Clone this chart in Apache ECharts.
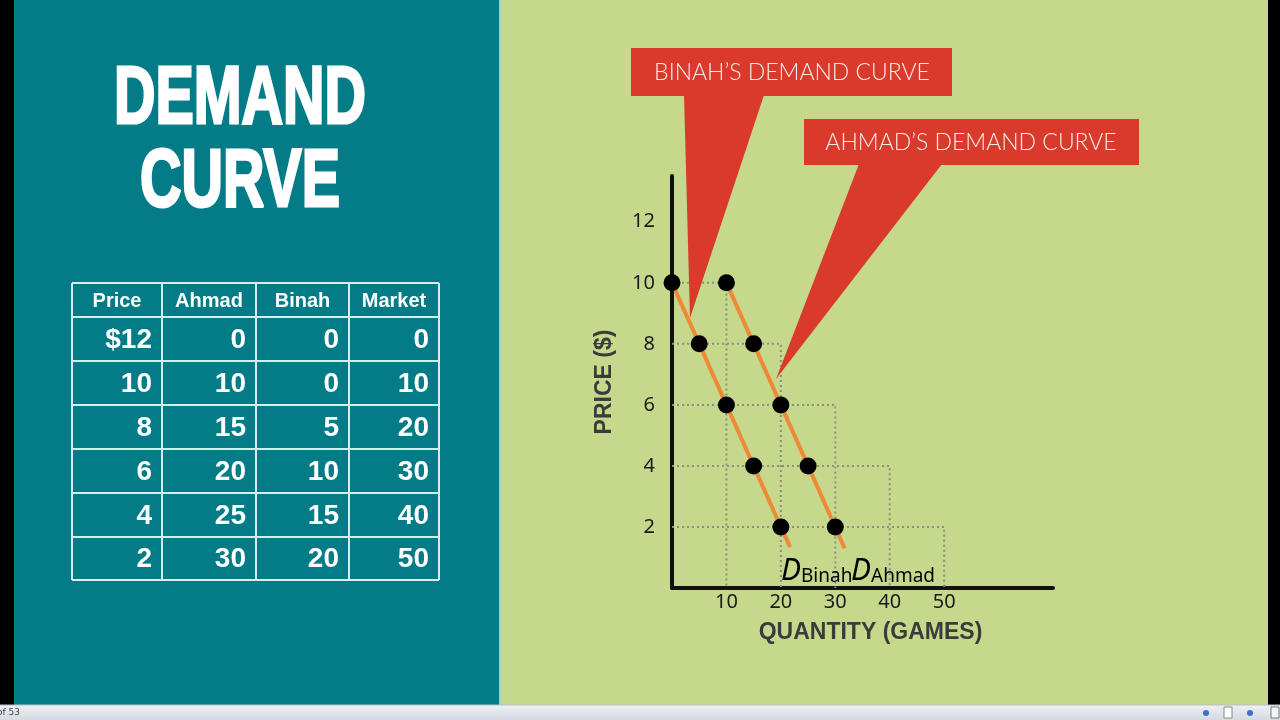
<!DOCTYPE html>
<html lang="en">
<head>
  <meta charset="UTF-8">
  <script src="https://cdn.jsdelivr.net/npm/echarts@6/dist/echarts.min.js"></script>
  <title>Demand Curve</title>
  <style>
    html, body { margin: 0; padding: 0; background: #000; }
    .container { width: 1280px; height: 720px; }
  </style>
</head>
<body>
  <div class="container"></div>
  <script>
    // table data (price schedule)
    const tableHeaders = ["Price", "Ahmad", "Binah", "Market"];
    const prices = [12, 10, 8, 6, 4, 2];
    const ahmadQty = [0, 10, 15, 20, 25, 30];
    const binahQty = [0, 0, 5, 10, 15, 20];
    const marketQty = [0, 10, 20, 30, 40, 50];

    // axis tick labels
    const xTicks = [10, 20, 30, 40, 50];
    const yTicks = [2, 4, 6, 8, 10, 12];

    // where the drawn demand lines stop
    const binahLineEnd = [21.7, 1.35];
    const ahmadLineEnd = [31.7, 1.3];

    const TEAL = "#037c88";
    const GREEN = "#c6d88b";
    const RED = "#d93a2b";
    const ORANGE = "#ee8a35";

    // only rows at $10 or less get plotted
    const plotted = prices.map((p, i) => i).filter((i) => prices[i] <= 10);
    const binahPts = plotted.map((i) => [binahQty[i], prices[i]]);
    const ahmadPts = plotted.map((i) => [ahmadQty[i], prices[i]]);
    const marketBoxes = plotted.map((i) => ({
      coords: [[0, prices[i]], [marketQty[i], prices[i]], [marketQty[i], 0]],
    }));

    // --- table graphics ---
    const colX = [72, 162, 256, 349, 439];
    const rowY = [283, 317, 361, 405, 449, 493, 537, 580];
    const tableEls = [];
    colX.forEach((x) => {
      tableEls.push({ type: "line", shape: { x1: x, y1: rowY[0], x2: x, y2: rowY[rowY.length - 1] },
        style: { stroke: "#d6eef0", lineWidth: 2 } });
    });
    rowY.forEach((y) => {
      tableEls.push({ type: "line", shape: { x1: colX[0], y1: y, x2: colX[4], y2: y },
        style: { stroke: "#d6eef0", lineWidth: 2 } });
    });
    tableHeaders.forEach((h, c) => {
      tableEls.push({ type: "text", x: (colX[c] + colX[c + 1]) / 2, y: (rowY[0] + rowY[1]) / 2 + 1,
        style: { text: h, fill: "#fff", fontSize: 20, fontWeight: "bold", fontFamily: "Liberation Sans",
          align: "center", verticalAlign: "middle", textAlign: "center", textVerticalAlign: "middle" } });
    });
    prices.forEach((p, r) => {
      const cells = [r === 0 ? "$" + p : String(p), ahmadQty[r], binahQty[r], marketQty[r]];
      cells.forEach((v, c) => {
        tableEls.push({ type: "text", x: colX[c + 1] - 10, y: (rowY[r + 1] + rowY[r + 2]) / 2 + 1,
          style: { text: String(v), fill: "#fff", fontSize: 28, fontWeight: "bold", fontFamily: "Liberation Sans",
            align: "right", verticalAlign: "middle", textAlign: "right", textVerticalAlign: "middle" } });
      });
    });

    const titleStyle = (t) => ({
      text: t, fill: "#fff", fontSize: 82, fontWeight: "bold", fontFamily: "Liberation Sans",
      stroke: "#fff", lineWidth: 3,
      align: "center", verticalAlign: "middle", textAlign: "center", textVerticalAlign: "middle",
    });

    const calloutText = (t) => ({
      text: t, fill: "#f7ece6", fontSize: 23, fontWeight: 300, fontFamily: "Lato",
      align: "center", verticalAlign: "middle", textAlign: "center", textVerticalAlign: "middle",
    });

    const dLabel = (who) => ({
      text: "{d|D}{s|" + who + "}",
      rich: {
        d: { fontSize: 30, fontStyle: "italic", fontFamily: "Noto Sans", color: "#222", verticalAlign: "bottom", lineHeight: 32 },
        s: { fontSize: 19, fontFamily: "Noto Sans", color: "#222", verticalAlign: "bottom", lineHeight: 26 },
      },
      align: "left", verticalAlign: "bottom", textAlign: "left", textVerticalAlign: "bottom",
    });

    const chart = echarts.init(document.querySelector(".container"));
    const options = {
      backgroundColor: GREEN,
      animation: false,
      grid: { left: 672, top: 176, width: 381, height: 412 },
      xAxis: {
        type: "value", min: 0, max: 70, interval: 10,
        axisLine: { show: true, lineStyle: { color: "#111", width: 4 } },
        axisTick: { show: false },
        splitLine: { show: false },
        axisLabel: {
          formatter: (v) => (xTicks.includes(v) ? v : ""),
          color: "#1a1a1a", fontSize: 20, fontFamily: "Noto Sans", margin: 4,
        },
        name: "QUANTITY (GAMES)", nameLocation: "middle", nameGap: 33,
        nameTextStyle: { fontSize: 23, fontWeight: "bold", color: "#3b3b3b", fontFamily: "Liberation Sans", padding: [0, 0, 0, 16] },
      },
      yAxis: {
        type: "value", min: 0, max: 13.5, interval: 2,
        axisLine: { show: true, lineStyle: { color: "#111", width: 4 } },
        axisTick: { show: false },
        splitLine: { show: false },
        axisLabel: {
          formatter: (v) => (yTicks.includes(v) ? v : ""),
          color: "#1a1a1a", fontSize: 20, fontFamily: "Noto Sans", margin: 17,
        },
        name: "PRICE ($)", nameLocation: "middle", nameGap: 56, nameRotate: 90,
        nameTextStyle: { fontSize: 23, fontWeight: "bold", color: "#3b3b3b", fontFamily: "Liberation Sans" },
      },
      series: [
        {
          name: "market grid", type: "lines", coordinateSystem: "cartesian2d", polyline: true,
          data: marketBoxes, silent: true, z: 1,
          lineStyle: { color: "#8a8f80", width: 2, type: [2, 3], opacity: 1 },
        },
        {
          name: "Binah", type: "line", data: binahPts.concat([binahLineEnd]), showSymbol: false, z: 3,
          lineStyle: { color: ORANGE, width: 4 },
        },
        {
          name: "Ahmad", type: "line", data: ahmadPts.concat([ahmadLineEnd]), showSymbol: false, z: 3,
          lineStyle: { color: ORANGE, width: 4 },
        },
        {
          name: "Binah pts", type: "scatter", data: binahPts, symbolSize: 17, z: 4,
          itemStyle: { color: "#000", opacity: 1 },
        },
        {
          name: "Ahmad pts", type: "scatter", data: ahmadPts, symbolSize: 17, z: 4,
          itemStyle: { color: "#000", opacity: 1 },
        },
      ],
      graphic: [
        // slide frame
        { type: "rect", z: -10, shape: { x: 0, y: 0, width: 14, height: 705 }, style: { fill: "#000" } },
        { type: "rect", z: -10, shape: { x: 1268, y: 0, width: 12, height: 705 }, style: { fill: "#000" } },
        { type: "rect", z: -10, shape: { x: 14, y: 0, width: 485, height: 705 }, style: { fill: TEAL } },
        { type: "rect", z: -10, shape: { x: 499, y: 0, width: 2, height: 705 }, style: { fill: "#a8d6b0" } },
        // status bar
        { type: "rect", z: -10, shape: { x: 0, y: 705, width: 1280, height: 15 },
          style: { fill: new echarts.graphic.LinearGradient(0, 0, 0, 1, [
            { offset: 0, color: "#eef1f5" }, { offset: 1, color: "#d5dae2" }]) } },
        { type: "line", z: -9, shape: { x1: 0, y1: 705, x2: 1280, y2: 705 }, style: { stroke: "#b9c0ca", lineWidth: 1 } },
        { type: "text", z: -9, x: -3, y: 713, style: { text: "of 53", fill: "#444", fontSize: 9, fontFamily: "DejaVu Sans",
          verticalAlign: "middle", textVerticalAlign: "middle" } },
        { type: "circle", z: -9, shape: { cx: 1206, cy: 713, r: 3 }, style: { fill: "#3b6fd6" } },
        { type: "rect", z: -9, shape: { x: 1224, y: 707, width: 8, height: 11 }, style: { fill: "#fff", stroke: "#888", lineWidth: 1 } },
        { type: "circle", z: -9, shape: { cx: 1250, cy: 713, r: 3 }, style: { fill: "#3b6fd6" } },
        { type: "rect", z: -9, shape: { x: 1271, y: 707, width: 8, height: 11 }, style: { fill: "#f4f4f4", stroke: "#777", lineWidth: 1 } },
        // title
        { type: "text", x: 240, y: 100, scaleX: 0.7, style: titleStyle("DEMAND") },
        { type: "text", x: 240, y: 183, scaleX: 0.7, style: titleStyle("CURVE") },
        // table
        { type: "group", children: tableEls },
        // callouts
        { type: "polygon", z: 50, shape: { points: [[684, 95], [764, 95], [690, 318]] }, style: { fill: RED } },
        { type: "rect", z: 50, shape: { x: 631, y: 48, width: 321, height: 48 }, style: { fill: RED } },
        { type: "text", z: 51, x: 792, y: 73, style: calloutText("BINAH\u2019S DEMAND CURVE") },
        { type: "polygon", z: 50, shape: { points: [[859, 164], [942, 164], [776, 379]] }, style: { fill: RED } },
        { type: "rect", z: 50, shape: { x: 804, y: 119, width: 335, height: 46 }, style: { fill: RED } },
        { type: "text", z: 51, x: 971, y: 143, style: calloutText("AHMAD\u2019S DEMAND CURVE") },
        // curve names
        { type: "text", z: 51, x: 781, y: 586, style: dLabel("Binah") },
        { type: "text", z: 51, x: 851, y: 586, style: dLabel("Ahmad") },
      ],
    };

    chart.setOption(options);
  </script>
</body>
</html>
